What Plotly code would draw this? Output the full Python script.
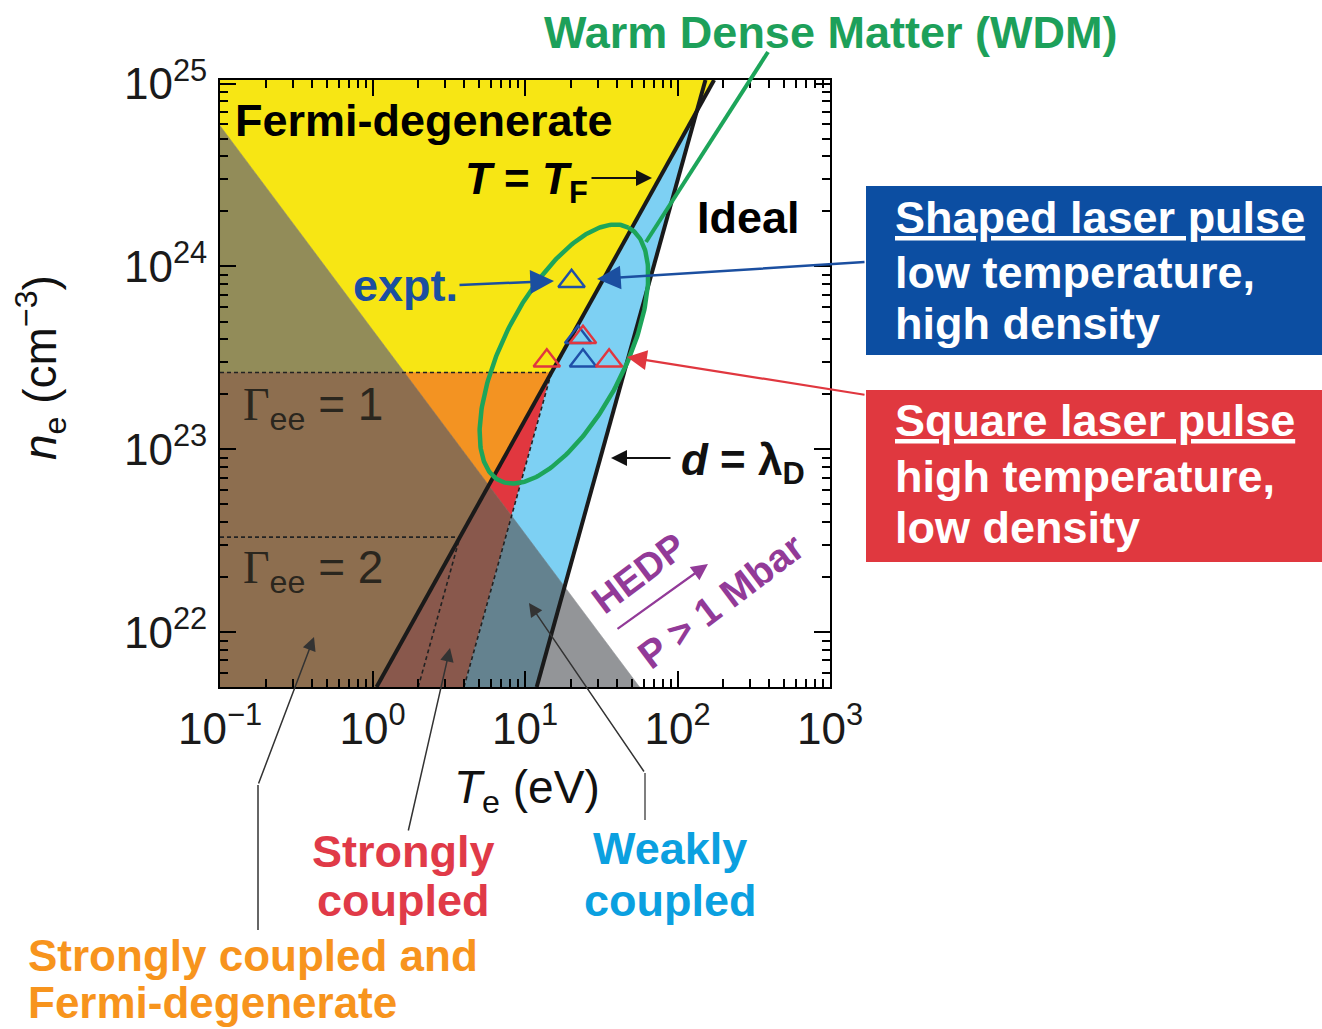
import numpy as np
import plotly.graph_objects as go

# ---------------- data ----------------
X_RANGE = [-1.0, 3.0]          # log10 T_e (eV)
Y_RANGE = [21.70, 25.02]       # log10 n_e (cm^-3)

# boundaries: log10 n = slope * log10 T + intercept
TF_LINE = (1.5, 21.66)         # T = T_F
LD_LINE = (3.0, 18.47)         # d = lambda_D
G1_LINE = (3.0, 19.90)         # classical Gamma = 1
G2_LINE = (3.0, 20.80)         # classical Gamma = 2
P_LINE = (-1.116, 23.654)      # P = 1 Mbar

# experimental points
T_shaped = [20.2, 22.3, 24.0]
n_shaped = [8.3e23, 4.1e23, 3.05e23]
T_square = [24.0, 13.9, 35.6]
n_square = [4.1e23, 3.05e23, 3.05e23]

# WDM ellipse (center in data, semi-axes in plot pixels, tilt)
ELL_T, ELL_N = 18.0, 3.32e23
ELL_A, ELL_B, ELL_ANG = 142, 61, 63

X_TICKS = [0.1, 1, 10, 100, 1000]
X_TICKTEXT = ["10<sup>−1</sup>", "10<sup>0</sup>", "10<sup>1</sup>", "10<sup>2</sup>", "10<sup>3</sup>"]
Y_TICKS = [1e22, 1e23, 1e24, 1e25]
Y_TICKTEXT = ["10<sup>22</sup>", "10<sup>23</sup>", "10<sup>24</sup>", "10<sup>25</sup>"]

COL = dict(yellow="#F7E614", olive="#928C59", orange="#F39322", brown="#8D6E4F",
           red="#E1373F", redbrown="#89584C", blue="#7DD0F3", grayblue="#64828F",
           gray="#939598")

# ---------------- layout geometry ----------------
W, H = 1322, 1029
L, R, T, B = 220, 492, 80, 342
PW, PH = W - L - R, H - T - B
PXX = PW / (X_RANGE[1] - X_RANGE[0])
PXY = PH / (Y_RANGE[1] - Y_RANGE[0])


def px2paper(px, py):
    return (px - L) / PW, (H - B - py) / PH


def clip(poly, a, b, c):
    out = []
    n = len(poly)
    for i in range(n):
        p, q = poly[i], poly[(i + 1) % n]
        fp = a * p[0] + b * p[1] + c
        fq = a * q[0] + b * q[1] + c
        if fp >= 0:
            out.append(p)
        if (fp >= 0) != (fq >= 0):
            t = fp / (fp - fq)
            out.append((p[0] + t * (q[0] - p[0]), p[1] + t * (q[1] - p[1])))
    return out


def above(line):
    m, k = line
    return (-m, 1.0, -k)


def below(line):
    m, k = line
    return (m, -1.0, k)


def yv(line, x):
    return line[0] * x + line[1]


xG1 = (TF_LINE[1] - G1_LINE[1]) / (G1_LINE[0] - TF_LINE[0])
yGee1 = yv(TF_LINE, xG1)
xG2 = (TF_LINE[1] - G2_LINE[1]) / (G2_LINE[0] - TF_LINE[0])
yGee2 = yv(TF_LINE, xG2)
HI1 = (0.0, 1.0, -yGee1)    # y >= yGee1
LO1 = (0.0, -1.0, yGee1)    # y <= yGee1

rect = [(X_RANGE[0], Y_RANGE[0]), (X_RANGE[1], Y_RANGE[0]),
        (X_RANGE[1], Y_RANGE[1]), (X_RANGE[0], Y_RANGE[1])]

regions = [
    ("yellow", [above(TF_LINE), HI1, above(P_LINE)]),
    ("olive", [above(TF_LINE), HI1, below(P_LINE)]),
    ("orange", [above(TF_LINE), LO1, above(P_LINE)]),
    ("brown", [above(TF_LINE), LO1, below(P_LINE)]),
    ("red", [below(TF_LINE), above(G1_LINE), above(P_LINE)]),
    ("redbrown", [below(TF_LINE), above(G1_LINE), below(P_LINE)]),
    ("blue", [below(TF_LINE), below(G1_LINE), above(LD_LINE), above(P_LINE)]),
    ("grayblue", [below(TF_LINE), below(G1_LINE), above(LD_LINE), below(P_LINE)]),
    ("gray", [below(LD_LINE), below(P_LINE)]),
]

fig = go.Figure()

for name, cons in regions:
    poly = rect
    for con in cons:
        poly = clip(poly, *con)
        if not poly:
            break
    if len(poly) < 3:
        continue
    xs = [10 ** p[0] for p in poly] + [10 ** poly[0][0]]
    ys = [10 ** p[1] for p in poly] + [10 ** poly[0][1]]
    fig.add_trace(go.Scatter(x=xs, y=ys, mode="lines", fill="toself",
                             fillcolor=COL[name], line=dict(color=COL[name], width=0.6),
                             hoverinfo="skip", showlegend=False))


def seg(x0, y0, x1, y1, color, width, dash="solid"):
    fig.add_trace(go.Scatter(x=[10 ** x0, 10 ** x1], y=[10 ** y0, 10 ** y1], mode="lines",
                             line=dict(color=color, width=width, dash=dash),
                             hoverinfo="skip", showlegend=False))


DASH = "4px,3px"
seg(X_RANGE[0], yGee1, xG1, yGee1, "#222", 1.6, DASH)
seg(X_RANGE[0], yGee2, xG2, yGee2, "#222", 1.6, DASH)
xb1 = (Y_RANGE[0] - G1_LINE[1]) / G1_LINE[0]
seg(xb1, Y_RANGE[0], xG1, yGee1, "#222", 1.6, DASH)
xb2 = (Y_RANGE[0] - G2_LINE[1]) / G2_LINE[0]
seg(xb2, Y_RANGE[0], xG2, yGee2, "#222", 1.6, DASH)
for line in (TF_LINE, LD_LINE):
    xa = (Y_RANGE[0] - line[1]) / line[0]
    xt = (Y_RANGE[1] - line[1]) / line[0]
    seg(xa, Y_RANGE[0], xt, Y_RANGE[1], "#1a1a1a", 4)

# WDM ellipse
t = np.linspace(0, 2 * np.pi, 300)
th = np.radians(ELL_ANG)
ex = np.log10(ELL_T) + (ELL_A * np.cos(th) * np.cos(t) - ELL_B * np.sin(th) * np.sin(t)) / PXX
ey = np.log10(ELL_N) + (ELL_A * np.sin(th) * np.cos(t) + ELL_B * np.cos(th) * np.sin(t)) / PXY
fig.add_trace(go.Scatter(x=10 ** ex, y=10 ** ey, mode="lines",
                         line=dict(color="#1DA55A", width=4.5), hoverinfo="skip", showlegend=False))

# experimental points
fig.add_trace(go.Scatter(x=T_shaped, y=n_shaped, mode="markers",
                         marker=dict(symbol="triangle-up-open", size=23, color="#1F4FA8",
                                     line=dict(width=2.4)), showlegend=False))
fig.add_trace(go.Scatter(x=T_square, y=n_square, mode="markers",
                         marker=dict(symbol="triangle-up-open", size=23, color="#E0373F",
                                     line=dict(width=2.4)), showlegend=False))

FONT = "Liberation Sans, Arial, Helvetica, sans-serif"


def text(px, py, s, size=45, color="black", xanchor="center", angle=0):
    x, y = px2paper(px, py)
    fig.add_annotation(x=x, y=y, xref="paper", yref="paper", text=s, showarrow=False,
                       xanchor=xanchor, yanchor="middle", textangle=angle,
                       font=dict(family=FONT, size=size, color=color))


def arrow(hx, hy, tx, ty, color, width=1.5, size=1.3, head=2):
    x, y = px2paper(hx, hy)
    fig.add_annotation(x=x, y=y, xref="paper", yref="paper", ax=tx - hx, ay=ty - hy,
                       axref="pixel", ayref="pixel", text="", showarrow=True,
                       arrowhead=head, arrowsize=size, arrowwidth=width, arrowcolor=color)


def pline(x0, y0, x1, y1, color, width):
    a0, b0 = px2paper(x0, y0)
    a1, b1 = px2paper(x1, y1)
    fig.add_shape(type="line", xref="paper", yref="paper", x0=a0, y0=b0, x1=a1, y1=b1,
                  line=dict(color=color, width=width))


def prect(x0, y0, x1, y1, color):
    a0, b0 = px2paper(x0, y0)
    a1, b1 = px2paper(x1, y1)
    fig.add_shape(type="rect", xref="paper", yref="paper", x0=a0, y0=b0, x1=a1, y1=b1,
                  line=dict(width=0), fillcolor=color)


# in-plot labels
text(424, 120, "<b>Fermi-degenerate</b>", 45)
text(526, 182, "<b><i>T</i> = <i>T</i><sub>F</sub></b>", 44)
arrow(652, 178, 590, 178, "#111", 2.0, 1.6)
text(748, 217, "<b>Ideal</b>", 45)
text(405, 285, "<b>expt.</b>", 45, "#1B4FA0")
arrow(554, 281, 458, 285, "#1B4FA0", 2.5, 1.9)
arrow(597, 279, 866, 262, "#1B4FA0", 2.5, 1.9)
arrow(627, 357, 866, 395, "#E0373F", 2.2, 1.8)
GAM = '<span style="font-family:Liberation Serif">Γ</span>'
text(313, 407, GAM + "<sub>ee</sub> = 1", 46, "#2a261e")
text(313, 570, GAM + "<sub>ee</sub> = 2", 46, "#2a261e")
text(743, 463, "<b><i>d</i> = λ<sub>D</sub></b>", 44, "#111")
arrow(611, 458, 672, 458, "#111", 2.0, 1.6)
text(639, 573, "<b>HEDP</b>", 38, "#923A98", angle=-37)
text(720, 601, "<b>P > 1 Mbar</b>", 39, "#923A98", angle=-37)
arrow(708, 564, 616, 630, "#923A98", 2.2, 1.5)

# WDM title + connector
text(830, 32, "<b>Warm Dense Matter (WDM)</b>", 45, "#1DA05A")
pline(646, 242, 768, 52, "#1DA55A", 4)

# right boxes
prect(866, 186, 1322, 355, "#0C4EA2")
prect(866, 390, 1322, 562, "#E0383F")
text(893, 217, "<b><u>Shaped laser pulse</u></b>", 45, "white", "left")
text(893, 272, "<b>low temperature,</b>", 45, "white", "left")
text(893, 323, "<b>high density</b>", 45, "white", "left")
text(893, 421, "<b><u>Square laser pulse</u></b>", 45, "white", "left")
text(893, 477, "<b>high temperature,</b>", 45, "white", "left")
text(893, 527, "<b>low density</b>", 45, "white", "left")

# axis titles
text(527, 790, "<i>T</i><sub>e</sub> (eV)", 46, "#111")
text(40, 368, "<i>n</i><sub>e</sub> (cm<sup>−3</sup>)", 46, "#111", angle=-90)

# bottom labels and connectors
text(403, 851, "<b>Strongly</b>", 45, "#E03A48")
text(403, 900, "<b>coupled</b>", 45, "#E03A48")
text(670, 848, "<b>Weakly</b>", 45, "#0BA0E0")
text(670, 900, "<b>coupled</b>", 45, "#0BA0E0")
text(26, 955, "<b>Strongly coupled and</b>", 44, "#F7941D", "left")
text(26, 1002, "<b>Fermi-degenerate</b>", 44, "#F7941D", "left")

pline(258, 930, 258, 785, "#333", 1.5)
arrow(314, 637, 258, 785, "#333", 1.5, 1.8)
arrow(450, 648, 408, 832, "#333", 1.5, 1.8)
pline(645, 820, 645, 773, "#555", 1.5)
arrow(529, 603, 645, 773, "#333", 1.5, 1.8)

minor_vals = [k * 10.0 ** e for e in range(-2, 4) for k in range(2, 10)]
minor_y = [k * 10.0 ** e for e in range(21, 26) for k in range(2, 10)]

axis_common = dict(type="log", showgrid=False, zeroline=False, showline=True,
                   linecolor="black", linewidth=2, mirror="ticks", ticks="inside",
                   ticklen=16, tickwidth=2, tickcolor="black",
                   tickfont=dict(family=FONT, size=44, color="#1a1a1a"),
                   tickmode="array", ticklabelstandoff=2)

fig.update_layout(
    width=W, height=H, margin=dict(l=L, r=R, t=T, b=B),
    paper_bgcolor="white", plot_bgcolor="white", showlegend=False,
    xaxis=dict(range=X_RANGE, tickvals=X_TICKS, ticktext=X_TICKTEXT,
               minor=dict(tickmode="array", tickvals=minor_vals, ticks="inside",
                          ticklen=8, tickwidth=1.5, tickcolor="black", showgrid=False),
               **axis_common),
    yaxis=dict(range=Y_RANGE, tickvals=Y_TICKS, ticktext=Y_TICKTEXT,
               minor=dict(tickmode="array", tickvals=minor_y, ticks="inside",
                          ticklen=8, tickwidth=1.5, tickcolor="black", showgrid=False),
               **axis_common),
)

fig.write_html("out.html")
